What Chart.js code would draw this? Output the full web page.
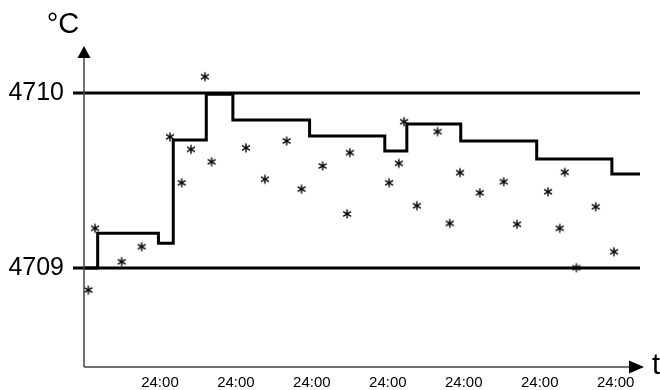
<!DOCTYPE html>
<html>
<head>
  <script src="https://cdn.jsdelivr.net/npm/chart.js@4/dist/chart.umd.min.js"></script>
  <style>
    body { margin: 0; background: #fff; }
  </style>
</head>
<body>
  <canvas id="myChart" width="660" height="390"></canvas>
  <script type="text/javascript">
    // step line (x in days, y in °C)
    var stepX = [0, 0.18, 0.98, 1.175, 1.61, 1.96, 2.97, 3.96, 4.25, 4.96, 5.96, 6.95, 7.32];
    var stepY = [4709, 4709.198, 4709.141, 4709.731, 4709.993, 4709.846, 4709.754, 4709.669, 4709.823, 4709.726, 4709.623, 4709.537, 4709.537];

    // measured points (asterisks)
    var starX = [0.057, 0.145, 0.496, 0.759, 1.132, 1.286, 1.408, 1.592, 1.680, 2.132, 2.382, 2.667, 2.864, 3.141, 3.464, 3.500,
      4.017, 4.145, 4.214, 4.382, 4.654, 4.816, 4.951, 5.211, 5.526, 5.701, 6.109, 6.263, 6.329, 6.483, 6.737, 6.978];
    var starY = [4708.874, 4709.227, 4709.036, 4709.122, 4709.750, 4709.487, 4709.678, 4710.093, 4709.607, 4709.687, 4709.507,
      4709.726, 4709.451, 4709.583, 4709.309, 4709.659, 4709.487, 4709.598, 4709.836, 4709.356, 4709.779, 4709.255, 4709.545,
      4709.430, 4709.493, 4709.250, 4709.436, 4709.227, 4709.547, 4709.002, 4709.350, 4709.093];

    var xTicks = [1, 2, 3, 4, 5, 6, 7];
    var xTickLabel = '24:00';
    var yTicks = [4709, 4710];

    var FONT = "'Liberation Sans', Arial, sans-serif";

    // asterisk marker
    var star = document.createElement('canvas');
    star.width = 12; star.height = 12;
    (function () {
      var c = star.getContext('2d');
      c.strokeStyle = '#000';
      c.lineWidth = 1.4;
      c.translate(6, 6);
      for (var i = 0; i < 3; i++) {
        var a = Math.PI / 2 + i * Math.PI / 3;
        c.beginPath();
        c.moveTo(Math.cos(a) * 4.6, Math.sin(a) * 4.6);
        c.lineTo(-Math.cos(a) * 4.6, -Math.sin(a) * 4.6);
        c.stroke();
      }
    })();

    function pts(xs, ys) {
      return xs.map(function (x, i) { return { x: x, y: ys[i] }; });
    }

    // reference lines at the y ticks (drawn under the data)
    var refLines = {
      id: 'refLines',
      beforeDatasetsDraw: function (chart) {
        var c = chart.ctx, ys = chart.scales.y, area = chart.chartArea;
        c.save();
        c.strokeStyle = '#000';
        c.lineWidth = 3;
        yTicks.forEach(function (v) {
          var py = ys.getPixelForValue(v);
          c.beginPath();
          c.moveTo(area.left - 11, py);
          c.lineTo(area.right, py);
          c.stroke();
        });
        c.restore();
      }
    };

    // axes with arrows + axis titles
    var axesPlugin = {
      id: 'axes',
      afterDraw: function (chart) {
        var c = chart.ctx;
        var x0 = chart.scales.x.getPixelForValue(0);
        var y0 = chart.scales.y.bottom;
        c.save();
        c.strokeStyle = '#444';
        c.lineWidth = 1.5;
        c.beginPath();
        c.moveTo(x0, y0);
        c.lineTo(x0, 56);
        c.moveTo(x0, y0);
        c.lineTo(631, y0);
        c.stroke();
        c.fillStyle = '#000';
        c.beginPath();
        c.moveTo(x0, 46);
        c.lineTo(x0 - 6.5, 58);
        c.lineTo(x0 + 6.5, 58);
        c.closePath();
        c.fill();
        c.beginPath();
        c.moveTo(644, y0);
        c.lineTo(629, y0 - 6.5);
        c.lineTo(629, y0 + 6.5);
        c.closePath();
        c.fill();
        c.font = '29px ' + FONT;
        c.textAlign = 'center';
        c.textBaseline = 'middle';
        c.fillText('°C', 63, 25);
        c.fillText('t', 656, 366);
        c.restore();
      }
    };

    var ctx = document.getElementById('myChart').getContext('2d');
    var chart = new Chart(ctx, {
      type: 'scatter',
      data: {
        datasets: [{
          label: 'step',
          data: pts(stepX, stepY),
          showLine: true,
          stepped: true,
          borderColor: '#000',
          borderWidth: 3,
          pointRadius: 0,
          fill: false
        }, {
          label: 'measured',
          data: pts(starX, starY),
          pointStyle: star,
          pointRadius: 6,
          showLine: false
        }]
      },
      options: {
        responsive: false,
        animation: false,
        clip: false,
        layout: { padding: { top: 47, right: 20, left: 0, bottom: 0 } },
        plugins: { legend: { display: false }, tooltip: { enabled: false } },
        scales: {
          x: {
            type: 'linear',
            min: 0,
            max: 7.32,
            afterBuildTicks: function (s) { s.ticks = xTicks.map(function (v) { return { value: v }; }); },
            afterFit: function (s) { s.height = 23; s.paddingLeft = 0; s.paddingRight = 0; },
            grid: { display: false, drawTicks: false },
            border: { display: false },
            ticks: {
              padding: 7,
              color: '#000',
              maxRotation: 0,
              font: { size: 15, family: FONT },
              callback: function () { return xTickLabel; }
            }
          },
          y: {
            type: 'linear',
            min: 4708.4343,
            max: 4710.2629,
            afterBuildTicks: function (s) { s.ticks = yTicks.map(function (v) { return { value: v }; }); },
            afterFit: function (s) { s.width = 84; s.paddingTop = 0; s.paddingBottom = 0; },
            border: { display: false },
            grid: { display: false, drawTicks: false },
            ticks: {
              padding: 20,
              color: '#000',
              font: { size: 25, family: FONT },
              callback: function (v) { return String(v); }
            }
          }
        }
      },
      plugins: [refLines, axesPlugin]
    });
  </script>
</body>
</html>
